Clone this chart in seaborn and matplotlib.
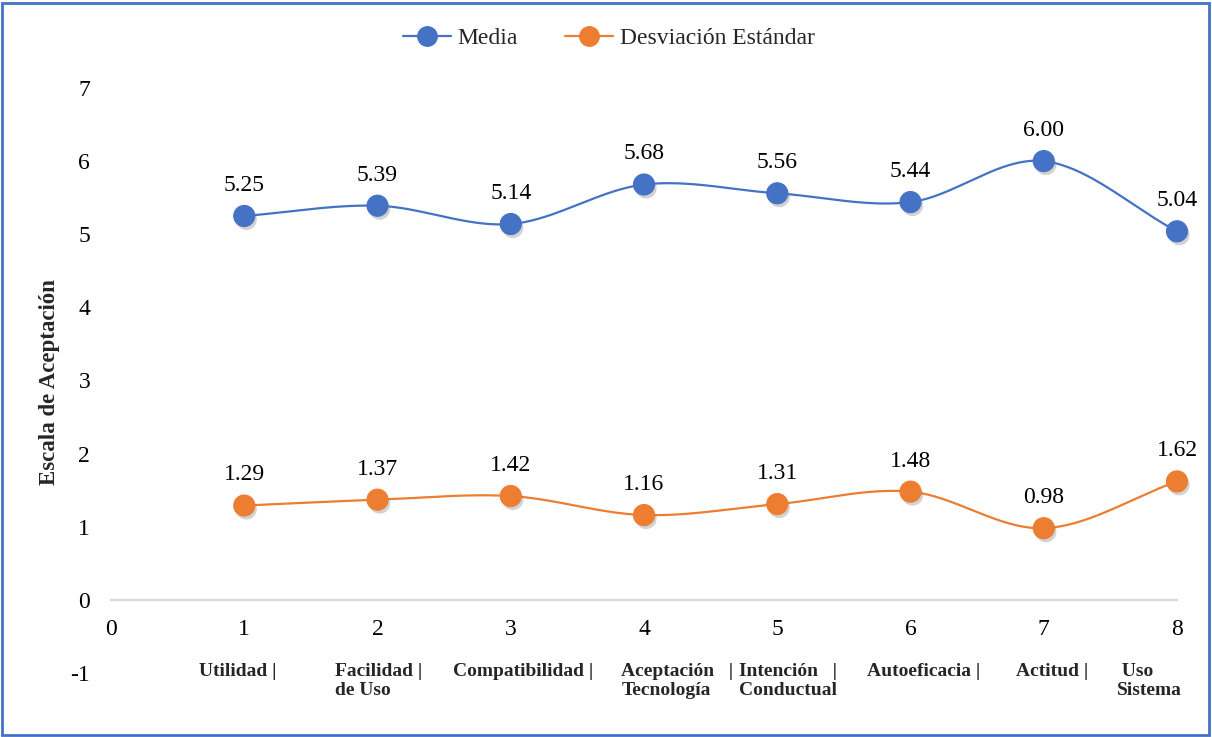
import numpy as np
import pandas as pd
import matplotlib
matplotlib.use("Agg")
import matplotlib.pyplot as plt
import matplotlib.patheffects as pe
from matplotlib.lines import Line2D
from matplotlib.patches import Rectangle
import seaborn as sns

# --- data -------------------------------------------------------------
x_pos = [1, 2, 3, 4, 5, 6, 7, 8]
media = [5.25, 5.39, 5.14, 5.68, 5.56, 5.44, 6.00, 5.04]
desviacion = [1.29, 1.37, 1.42, 1.16, 1.31, 1.48, 0.98, 1.62]
categorias = [
    "Utilidad |",
    "Facilidad |\nde Uso",
    "Compatibilidad |",
    "Aceptación   |\nTecnología",
    "Intención   |\nConductual",
    "Autoeficacia |",
    "Actitud |",
    " Uso\nSistema",
]
x_ticks = [0, 1, 2, 3, 4, 5, 6, 7, 8]
y_ticks = [-1, 0, 1, 2, 3, 4, 5, 6, 7]
serie_media = "Media"
serie_de = "Desviación Estándar"
y_label = "Escala de Aceptación"

# horizontal nudges for the category captions (data units)
cat_shift = [-0.05, 0.01, 0.09, 0.25, 0.08, 0.10, 0.06, -0.21]

AZUL = "#4472C4"
NARANJA = "#ED7D31"

sns.set_theme(style="white")
plt.rcParams["font.family"] = ["Liberation Serif", "DejaVu Serif"]


def smooth(xs, ys, n=40):
    """Bezier smoothing through every point (Catmull-Rom style tangents)."""
    xs = np.asarray(xs, float)
    ys = np.asarray(ys, float)
    px = np.concatenate([[2 * xs[0] - xs[1]], xs, [2 * xs[-1] - xs[-2]]])
    py = np.concatenate([[2 * ys[0] - ys[1]], ys, [2 * ys[-1] - ys[-2]]])
    out_x, out_y = [], []
    t = np.linspace(0, 1, n)
    for i in range(1, len(px) - 2):
        p0 = np.array([px[i], py[i]])
        p3 = np.array([px[i + 1], py[i + 1]])
        p1 = p0 + (np.array([px[i + 1], py[i + 1]]) - np.array([px[i - 1], py[i - 1]])) / 6
        p2 = p3 - (np.array([px[i + 2], py[i + 2]]) - np.array([px[i], py[i]])) / 6
        b = ((1 - t) ** 3)[:, None] * p0 + (3 * (1 - t) ** 2 * t)[:, None] * p1 \
            + (3 * (1 - t) * t ** 2)[:, None] * p2 + (t ** 3)[:, None] * p3
        out_x.extend(b[:, 0])
        out_y.extend(b[:, 1])
    return np.array(out_x), np.array(out_y)


W, H = 1212, 737
fig = plt.figure(figsize=(W / 100, H / 100), dpi=100)
ax = fig.add_axes([111 / W, 1 - 673 / H, (1177 - 111) / W, (673 - 88) / H])

# axis frame first (moving a spine resets the tick labels)
for s in ["top", "right", "left"]:
    ax.spines[s].set_visible(False)
ax.spines["bottom"].set_position(("data", 0))
ax.spines["bottom"].set_color("#D9D9D9")
ax.spines["bottom"].set_linewidth(1.6)
ax.grid(False)

df = pd.DataFrame({"x": x_pos * 2,
                   "valor": media + desviacion,
                   "serie": [serie_media] * len(x_pos) + [serie_de] * len(x_pos)})

shadow = [pe.SimplePatchShadow(offset=(1.5, -2.5), shadow_rgbFace="#7f7f7f", alpha=0.35),
          pe.Normal()]

for serie, color, vals in [(serie_media, AZUL, media), (serie_de, NARANJA, desviacion)]:
    sx, sy = smooth(x_pos, vals)
    ax.plot(sx, sy, color=color, lw=1.6, zorder=2, clip_on=False)
    sub = df[df["serie"] == serie]
    sns.scatterplot(data=sub, x="x", y="valor", ax=ax, color=color, s=230,
                    edgecolor=color, linewidth=0.8, zorder=3, legend=False, clip_on=False)
    ax.collections[-1].set_path_effects(shadow)
    for xv, yv in zip(x_pos, vals):
        ax.annotate(f"{yv:.2f}", (xv, yv), xytext=(0, 14.5), textcoords="offset points",
                    ha="center", va="bottom", fontsize=17, color="black")

ax.set_xlim(0, 8)
ax.set_ylim(-1, 7)
ax.set_xlabel("")
ax.set_ylabel("")
ax.set_xticks(x_ticks)
ax.set_yticks(y_ticks)
ax.set_xticklabels([str(v) for v in x_ticks], fontsize=17)
ax.set_yticklabels([str(v) for v in y_ticks], fontsize=17)
ax.tick_params(axis="x", length=0, pad=14, colors="black")
ax.tick_params(axis="y", length=0, pad=15, colors="black")

for xv, lab, dx in zip(x_pos, categorias, cat_shift):
    ax.text(xv + dx, -0.86, lab, ha="center", va="top", fontsize=14, fontweight="bold",
            multialignment="left", linespacing=1.2, clip_on=False)

fig.text(50 / W, 1 - 382 / H, y_label, rotation=90, ha="center", va="center",
         fontsize=16.5, fontweight="bold")

handles = [Line2D([0], [0], color=AZUL, lw=1.6, marker="o", markersize=14,
                  markerfacecolor=AZUL, markeredgecolor=AZUL),
           Line2D([0], [0], color=NARANJA, lw=1.6, marker="o", markersize=14,
                  markerfacecolor=NARANJA, markeredgecolor=NARANJA)]
fig.legend(handles, [serie_media, serie_de], loc="center", ncol=2, frameon=False,
           bbox_to_anchor=(609 / W, 1 - 38 / H), fontsize=17, handlelength=2.0,
           columnspacing=2.0, handletextpad=0.3)

fig.add_artist(Rectangle((2 / W, 2 / H), 1 - 5 / W, 1 - 5 / H, transform=fig.transFigure,
                         fill=False, edgecolor=AZUL, linewidth=2))

fig.savefig("out.png", dpi=100)
